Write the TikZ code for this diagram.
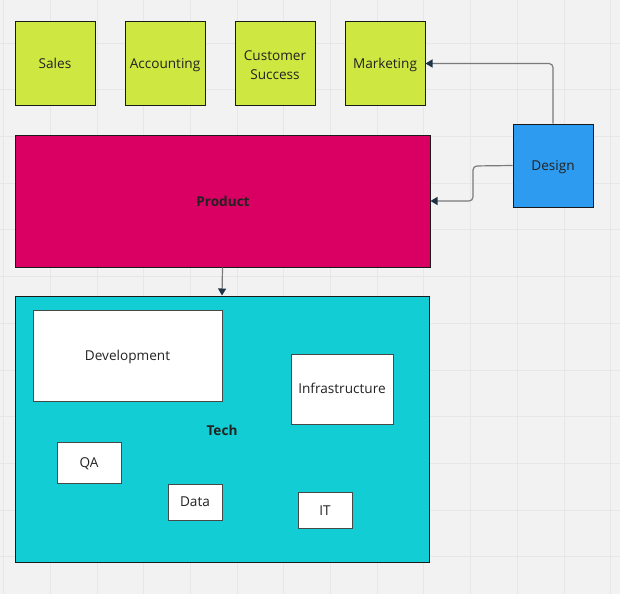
\documentclass[tikz,border=0pt]{standalone}
\usepackage{fontspec}
\setmainfont{Open Sans}
\usetikzlibrary{arrows.meta}
\definecolor{bg}{HTML}{F2F2F2}
\definecolor{gridc}{HTML}{E7E7E7}
\definecolor{lime}{HTML}{CEE741}
\definecolor{mag}{HTML}{DA0063}
\definecolor{cyanb}{HTML}{12CDD4}
\definecolor{blueb}{HTML}{2D9BF0}
\definecolor{edge}{HTML}{1A1A1A}
\definecolor{conn}{HTML}{7A7A7A}
\definecolor{tip}{HTML}{1F3347}
\definecolor{txt}{HTML}{222222}
\tikzset{
  lbl/.style={font=\fontsize{13.6}{16}\selectfont},
  oneline/.style={text height=9.7pt, text depth=0pt},
  box/.style={draw=edge, line width=1pt, text=txt, lbl, align=center, inner sep=0pt},
  sticky/.style={box, fill=lime, minimum width=80pt, minimum height=83pt},
  whitebox/.style={box, fill=white, draw=edge!80, oneline},
  boldlbl/.style={font=\fontsize{13.6}{16}\selectfont\bfseries, text=txt, oneline, inner sep=0pt},
  conline/.style={draw=conn, line width=1.2pt, rounded corners=4pt, -{Triangle[color=tip, length=7pt, width=8pt]}},
}
\begin{document}
\begin{tikzpicture}[x=1pt, y=-1pt]
\useasboundingbox (0,0) rectangle (620,594);
\fill[bg] (0,0) rectangle (620,594);
\foreach \k in {0,...,13} {
  \draw[gridc, line width=0.8pt] ({3.5+46.7*\k},0) -- ({3.5+46.7*\k},594);
  \draw[gridc, line width=0.8pt] (0,{-3.7+46.7*\k}) -- (620,{-3.7+46.7*\k});
}
% top stickies
\node[sticky, oneline] (sales) at (55,63.5) {Sales};
\node[sticky, oneline] (acc) at (165,63.5) {Accounting};
\node[sticky] (cs) at (275,63.5) {};
\node[lbl, text=txt, align=center, inner sep=0pt] (csl) at (275,65.5) {Customer\\[3pt]Success};
\node[sticky, oneline] (mkt) at (385,63.5) {Marketing};
% product
\node[box, fill=mag, minimum width=415pt, minimum height=132pt] (prod) at (222.5,201) {};
\node[boldlbl] (prodl) at (223,202) {Product};
% design
\node[box, oneline, fill=blueb, minimum width=80pt, minimum height=83pt] (des) at (553,165.5) {Design};
% tech
\node[box, fill=cyanb, minimum width=414pt, minimum height=266pt] (tech) at (222,429) {};
\node[boldlbl] (techl) at (222,431) {Tech};
\node[whitebox, minimum width=189pt, minimum height=91pt] (dev) at (127.5,356) {Development};
\node[whitebox, minimum width=102pt, minimum height=70pt] (infra) at (342,389) {Infrastructure};
\node[whitebox, minimum width=64pt, minimum height=41pt] (qa) at (89,462.5) {QA};
\node[whitebox, minimum width=54pt, minimum height=36pt] (data) at (195,502) {Data};
\node[whitebox, minimum width=54pt, minimum height=36pt] (it) at (325,510.5) {IT};
% connectors
\draw[conline] (des.north) |- (mkt.east);
\coordinate (d1) at (473,166);
\coordinate (d2) at (473,201);
\draw[conline] (des.west) -- (d1) -- (d2) -- (prod.east |- d2);
\draw[conline, rounded corners=0pt] (prod.south) -- (tech.north);
\end{tikzpicture}
\end{document}
